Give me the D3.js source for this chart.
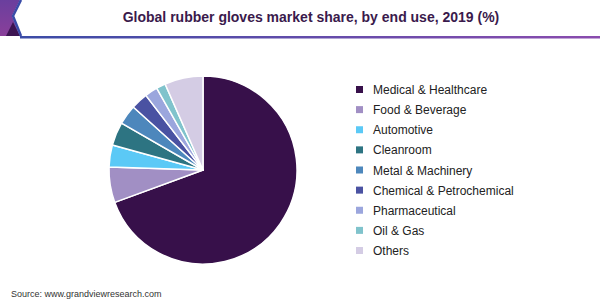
<!DOCTYPE html>
<html><head><meta charset="utf-8">
<script src="https://cdn.jsdelivr.net/npm/d3@7"></script>
<style>body{margin:0;background:#fff;}svg{display:block;font-family:"Liberation Sans",Arial,sans-serif;}</style>
</head><body>
<svg id="c" width="600" height="300"></svg>
<script>
const categories = ["Medical & Healthcare","Food & Beverage","Automotive","Cleanroom","Metal & Machinery","Chemical & Petrochemical","Pharmaceutical","Oil & Gas","Others"];
const shares = [69.4, 6.1, 3.8, 4.0, 3.4, 2.9, 2.2, 1.6, 6.6];
const colors = ["#37104a","#a18fc4","#5bc9f6","#2d7482","#4d87bc","#4a52a2","#9ba6dd","#80c3cc","#d4cce4"];

const svg = d3.select("#c");
const defs = svg.append("defs");
const g1 = defs.append("linearGradient").attr("id","hdr").attr("x1","0").attr("x2","0").attr("y1","0").attr("y2","1");
g1.append("stop").attr("offset","0").attr("stop-color","#6a3f9e");
g1.append("stop").attr("offset","1").attr("stop-color","#8a3f9a");
const g2 = defs.append("linearGradient").attr("id","ln").attr("x1","0").attr("x2","1");
g2.append("stop").attr("offset","0").attr("stop-color","#3b4ca6");
g2.append("stop").attr("offset","1").attr("stop-color","#8a4cae");

svg.append("polygon").attr("points","0,0 20,0 12,16 20,36 0,36").attr("fill","url(#hdr)");
svg.append("polygon").attr("points","6,36 13,22 20,36").attr("fill","#3d1452");
svg.append("polyline").attr("points","21,0 13,16 21,36").attr("fill","none").attr("stroke","#3a4ca8").attr("stroke-width",2.5);
svg.append("rect").attr("x",20).attr("y",36).attr("width",580).attr("height",2.5).attr("fill","url(#ln)");

svg.append("text").attr("x",311).attr("y",22).attr("text-anchor","middle")
  .attr("font-size",14).attr("font-weight","bold").attr("fill","#3a1a4c")
  .text("Global rubber gloves market share, by end use, 2019 (%)");

const data = categories.map((c,i)=>({name:c, value:shares[i], color:colors[i]}));
const pie = d3.pie().value(d=>d.value).sort(null);
const arc = d3.arc().innerRadius(0).outerRadius(94);
const pg = svg.append("g").attr("transform","translate(203,170)");
pg.selectAll("path").data(pie(data)).join("path")
  .attr("d",arc).attr("fill",d=>d.data.color)
  .attr("stroke","#fff").attr("stroke-width",1.5).attr("stroke-linejoin","round");

const y = d3.scalePoint().domain(categories).range([89.5,250.5]);
const lg = svg.append("g");
const items = lg.selectAll("g").data(data).join("g").attr("transform",d=>`translate(356,${y(d.name)})`);
items.append("rect").attr("x",0).attr("y",-3.5).attr("width",7).attr("height",7).attr("fill",d=>d.color);
items.append("text").attr("x",17).attr("y",4.5).attr("font-size",12).attr("fill","#222").text(d=>d.name);

svg.append("text").attr("x",11).attr("y",297).attr("font-size",9).attr("fill","#333").text("Source: www.grandviewresearch.com");
</script>
</body></html>
